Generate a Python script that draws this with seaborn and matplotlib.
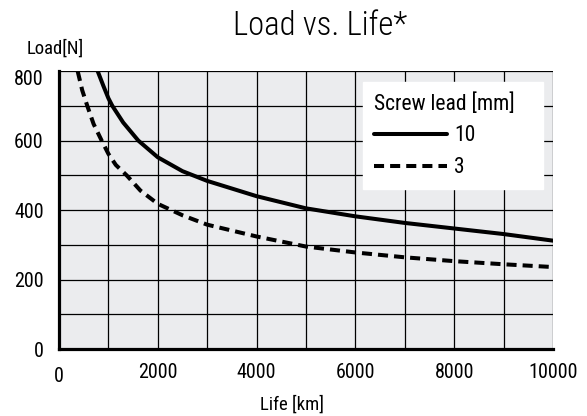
import matplotlib
matplotlib.use('Agg')
from matplotlib import pyplot as plt
import matplotlib.ticker as ticker
import matplotlib.transforms as mtransforms
import seaborn as sns
import pandas as pd

# values
life_lead10 = [783, 900, 1000, 1080, 1300, 1606, 2000, 2500, 3000, 4000, 5000, 6000, 7000, 8000, 9000, 10000]
load_lead10 = [800, 757, 722, 700, 652, 600, 552, 512, 484, 440, 405, 382, 363, 347, 331, 312]
life_lead3 = [378, 470, 573, 700, 864, 1000, 1150, 1370, 1650, 2000, 2500, 3000, 4000, 5000, 6000, 7000, 8000, 9000, 10000]
load_lead3 = [800, 745, 700, 648, 600, 562, 530, 500, 456, 418, 385, 358, 324, 295, 278, 264, 253, 244, 236]
lead_labels = ['10', '3']
x_ticks = [0, 2000, 4000, 6000, 8000, 10000]
y_ticks = [0, 200, 400, 600, 800]

df10 = pd.DataFrame({'life': life_lead10, 'load': load_lead10})
df3 = pd.DataFrame({'life': life_lead3, 'load': load_lead3})

sns.set_style('white')
plt.rcParams['font.family'] = ['Roboto Condensed', 'DejaVu Sans']
plt.rcParams['text.color'] = 'black'

fig = plt.figure(figsize=(5.87, 4.16), dpi=100)
ax = fig.add_axes([0.1005, 0.161, 0.8415, 0.668])
ax.set_facecolor('#ebecee')

sns.lineplot(data=df10, x='life', y='load', ax=ax, color='black', linewidth=2.9,
             label=lead_labels[0], sort=False)
sns.lineplot(data=df3, x='life', y='load', ax=ax, color='black', linewidth=2.9,
             label=lead_labels[1], sort=False)
ax.lines[1].set_dashes((2.5, 1.5))

ax.set_xlim(0, 10000)
ax.set_ylim(0, 800)
ax.xaxis.set_minor_locator(ticker.MultipleLocator(1000))
ax.yaxis.set_minor_locator(ticker.MultipleLocator(100))
ax.set_xticks(x_ticks)
ax.set_yticks(y_ticks)
ax.grid(which='both', color='black', linewidth=0.9)
ax.set_axisbelow(True)
ax.tick_params(which='both', length=0)
ax.tick_params(axis='both', labelsize=14.5, colors='black')
ax.tick_params(axis='x', pad=10)
ax.tick_params(axis='y', pad=11)
ax.get_xticklabels()[0].set_y(-0.015)
top_lab = ax.get_yticklabels()[-1]
top_lab.set_transform(top_lab.get_transform() + mtransforms.ScaledTranslation(0, -6 / 100, fig.dpi_scale_trans))

for side in ['top', 'right']:
    ax.spines[side].set_visible(False)
for side in ['left', 'bottom']:
    ax.spines[side].set_linewidth(2.3)
    ax.spines[side].set_color('black')

ax.set_xlabel('')
ax.set_ylabel('')
fig.text(0.545, 0.916, 'Load vs. Life*', ha='center', va='baseline', fontsize=23.5, fontweight='light')
fig.text(0.046, 0.870, 'Load[N]', ha='left', va='baseline', fontsize=13.5)
fig.text(0.497, 0.0144, 'Life [km]', ha='center', va='baseline', fontsize=13.5)

leg = ax.legend(title='Screw lead [mm]', loc='upper left', bbox_to_anchor=(0.6154, 0.5, 0.3644, 0.46),
                mode='expand', borderaxespad=0, frameon=True, fancybox=False, framealpha=1,
                edgecolor='white', fontsize=15.5, title_fontsize=15.5, handlelength=3.4,
                handletextpad=0.35, labelspacing=0.5, borderpad=0.5)
leg._legend_box.align = 'left'

fig.savefig('out.png', dpi=100)
